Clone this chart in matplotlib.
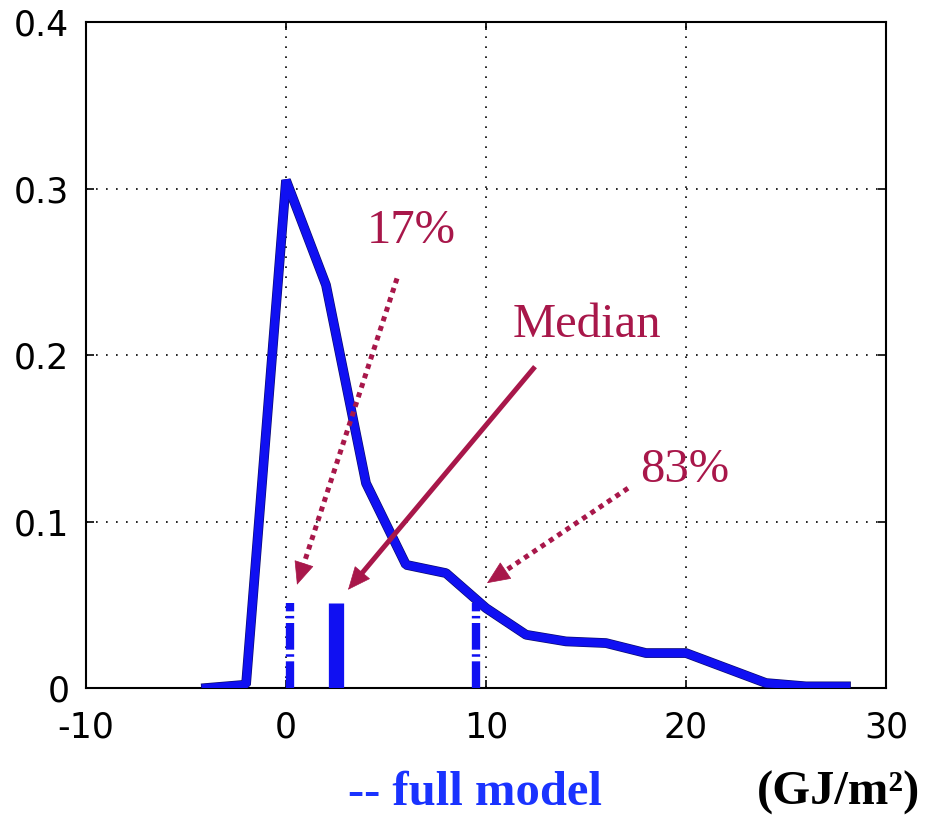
import numpy as np
import matplotlib.pyplot as plt
import matplotlib.patheffects as pe

# data
energy = [-4, -2, 0, 2, 4, 6, 8, 10, 12, 14, 16, 18, 20, 22, 24, 26, 28]
density = [0.0, 0.002, 0.305, 0.242, 0.123, 0.074, 0.069, 0.048, 0.032,
           0.028, 0.027, 0.021, 0.021, 0.012, 0.003, 0.001, 0.001]

quant_labels = ['17%', 'Median', '83%']
quant_x = [0.2, 2.5, 9.5]
quant_h = [0.051, 0.051, 0.051]

x_ticks = [-10, 0, 10, 20, 30]
y_ticks = [0, 0.1, 0.2, 0.3, 0.4]

blue = '#1010f2'
crimson = '#a8174a'

fig = plt.figure(figsize=(9.26, 8.15), dpi=100)
ax = fig.add_axes([0.0929, 0.1558, 0.8639, 0.8172])

ax.set_xlim(-10, 30)
ax.set_ylim(0, 0.4)
ax.set_xticks(x_ticks)
ax.set_yticks(y_ticks)
ax.set_xticklabels([str(t) for t in x_ticks])
ax.set_yticklabels(['0', '0.1', '0.2', '0.3', '0.4'])
ax.tick_params(direction='in', length=6, width=1.2, top=True, right=True,
               labelsize=25)
ax.tick_params(axis='x', pad=16)
ax.tick_params(axis='y', pad=12)
ax.grid(True, color='black', linestyle=(0, (1, 5)), linewidth=1.2)
for s in ax.spines.values():
    s.set_linewidth(1.5)

# main density curve
ax.plot(energy, density, color=blue, lw=6, solid_joinstyle='bevel',
        path_effects=[pe.Stroke(linewidth=7, foreground='#0a0a70',
                                joinstyle='bevel'), pe.Normal()],
        zorder=3)

# quantile markers
dashdot = (0, (3.2, 0.55, 0.3, 0.55))
ax.plot([quant_x[0]] * 2, [0, quant_h[0]], color=blue, lw=6,
        linestyle=dashdot, dash_capstyle='butt', zorder=3)
ax.plot([quant_x[1]] * 2, [0, quant_h[1]], color=blue, lw=11,
        solid_capstyle='butt', zorder=3)
ax.plot([quant_x[2]] * 2, [0, quant_h[2]], color=blue, lw=6,
        linestyle=dashdot, dash_capstyle='butt', zorder=3)

# annotations
text_pos = [(6.25, 0.267), (15.05, 0.211), (19.95, 0.124)]
arrow_start = [(5.55, 0.246), (12.45, 0.193), (17.1, 0.120)]
arrow_tip = [(0.55, 0.062), (3.1, 0.059), (10.05, 0.063)]
arrow_ls = [(0, (1, 1)), '-', (0, (1, 1))]

head_px = 20
for lab, tp, st, tip, ls in zip(quant_labels, text_pos, arrow_start, arrow_tip, arrow_ls):
    ax.text(tp[0], tp[1], lab, color=crimson, fontsize=35,
            family='Liberation Serif', ha='center', va='baseline', zorder=5)
    # shaft ends where the head begins
    p0 = ax.transData.transform(st)
    p1 = ax.transData.transform(tip)
    d = (p1 - p0) / np.hypot(*(p1 - p0))
    base = ax.transData.inverted().transform(p1 - d * head_px)
    ax.plot([st[0], base[0]], [st[1], base[1]], color=crimson, lw=3.6,
            linestyle=ls, dash_capstyle='butt', solid_capstyle='butt', zorder=5)
    ax.annotate('', xy=tip, xytext=base,
                arrowprops=dict(arrowstyle='-|>,head_length=0.55,head_width=0.24',
                                color=crimson, lw=0.5,
                                shrinkA=0, shrinkB=0, mutation_scale=28),
                zorder=5)

fig.text(348 / 926, 1 - 805 / 815, '-- full model', color='#1a33ff',
         fontsize=35, fontweight='bold', family='Liberation Serif',
         ha='left', va='baseline')
fig.text(920 / 926, 1 - 805 / 815, '(GJ/m²)', color='black',
         fontsize=35, fontweight='bold', family='Liberation Serif',
         ha='right', va='baseline')

fig.savefig('out.png', dpi=100, facecolor='white')
